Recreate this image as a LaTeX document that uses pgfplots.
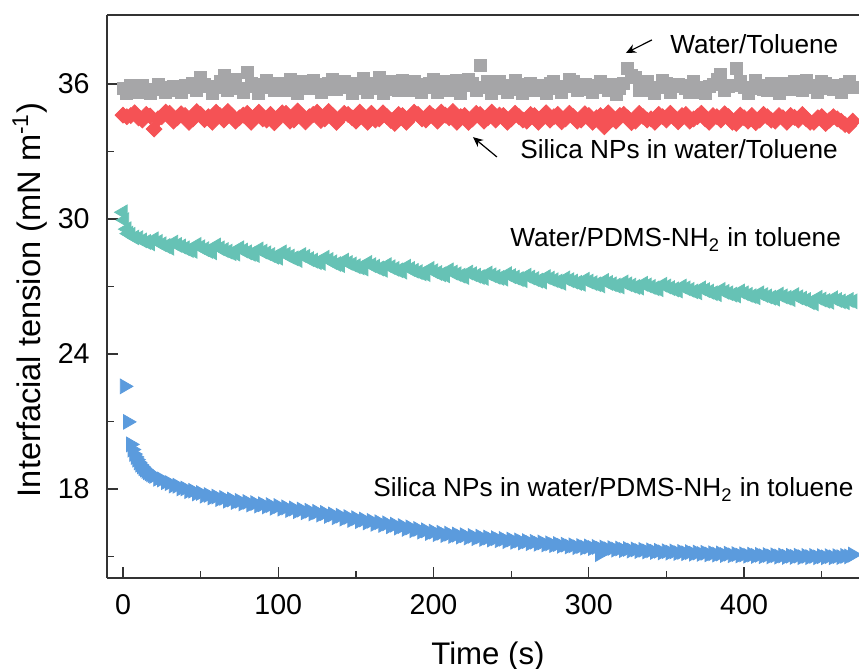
\documentclass[border=0pt]{standalone}
\usepackage{fontspec}
\setmainfont{Liberation Sans}
\usepackage{pgfplots}
\pgfplotsset{compat=1.18}
\usetikzlibrary{arrows.meta}
\definecolor{cgray}{RGB}{166,166,168}
\definecolor{cred}{RGB}{245,82,85}
\definecolor{cteal}{RGB}{102,194,181}
\definecolor{cblue}{RGB}{91,155,221}
\newcommand{\fs}{\fontsize{13.1}{15.5}\selectfont}
\begin{document}
\begin{tikzpicture}
\begin{axis}[
  scale only axis, width=376pt, height=281.5pt,
  xmin=-10.3, xmax=474, ymin=14.04, ymax=39.07,
  axis lines*=left,
  axis line style={black!80, line width=0.6pt},
  every tick/.style={black!80, line width=0.6pt},
  tick align=inside,
  major tick length=5.5pt, minor tick length=3.6pt,
  xtick={0,100,200,300,400}, minor xtick={50,150,250,350,450},
  ytick={18,24,30,36}, minor ytick={15,21,27,33},
  /pgf/number format/assume math mode=true,
  tick label style={font=\fontsize{14.3}{17}\selectfont},
  xticklabel style={anchor=base, yshift=-18.5pt},
  yticklabel style={anchor=east, inner sep=0pt, xshift=-8.5pt},
  every axis x label/.style={at={(axis description cs:0.5066,-0.1545)}, anchor=base, font=\fontsize{15.6}{18}\selectfont},
  every axis y label/.style={at={(axis description cs:-0.1024,0.494)}, anchor=center, rotate=90, font=\fontsize{16.3}{19}\selectfont},
  xlabel={Time (s)},
  ylabel={Interfacial tension (mN m\textsuperscript{-1})},
]
\addplot[only marks, mark=square*, mark size=3pt, mark options={draw=cgray, fill=cgray}] coordinates {
(0,35.80) (2.5,35.60) (5,35.95) (7.5,35.75) (10,35.62) (12.5,35.95) (15,35.70) (17.5,35.58) (20,35.78) (22.5,36.00)
(25,35.85) (27.5,35.65) (30,35.72) (32.5,35.90) (35,35.80) (37.5,35.62) (40,35.95) (42.5,35.85) (45,36.05) (47.5,35.70)
(50,36.30) (52.5,36.00) (55,35.90) (57.5,35.60) (60,35.85) (62.5,36.10) (65,36.40) (67.5,35.70) (70,35.95) (72.5,36.20)
(75,35.80) (77.5,35.65) (80,36.50) (82.5,36.05) (85,35.90) (87.5,35.60) (90,36.00) (92.5,36.15) (95,35.85) (97.5,35.70)
(100,36.05) (102.5,35.90) (105,35.70) (107.5,36.20) (110,35.95) (112.5,35.60) (115,36.10) (117.5,35.80) (120,35.80) (122.5,36.15)
(125,36.00) (127.5,35.62) (130,35.75) (132.5,36.05) (135,36.20) (137.5,35.75) (140,35.90) (142.5,36.10) (145,35.85) (147.5,35.60)
(150,36.05) (152.5,35.80) (155,36.25) (157.5,35.65) (160,35.80) (162.5,36.05) (165,36.30) (167.5,35.60) (170,35.75) (172.5,36.10)
(175,35.95) (177.5,35.70) (180,36.15) (182.5,35.88) (185,35.70) (187.5,36.10) (190,36.00) (192.5,35.62) (195,35.85) (197.5,36.05)
(200,36.20) (202.5,35.65) (205,35.90) (207.5,36.10) (210,35.70) (212.5,35.90) (215,36.15) (217.5,35.60) (220,35.95) (222.5,36.20)
(225,36.05) (227.5,35.70) (230,36.85) (232.5,35.85) (235,36.10) (237.5,35.60) (240,35.80) (242.5,36.10) (245,35.95) (247.5,35.65)
(250,35.75) (252.5,36.15) (255,36.00) (257.5,35.60) (260,35.85) (262.5,36.05) (265,35.70) (267.5,35.75) (270,35.95) (272.5,35.58)
(275,36.05) (277.5,36.10) (280,35.80) (282.5,35.65) (285,35.90) (287.5,36.20) (290,36.10) (292.5,35.70) (295,35.75) (297.5,36.00)
(300,35.95) (302.5,35.62) (305,35.85) (307.5,36.10) (310,35.90) (312.5,35.70) (315,36.00) (317.5,35.55) (320,35.80) (322.5,36.05)
(325,36.70) (327.5,36.40) (330,36.30) (332.5,35.70) (335,35.95) (337.5,36.10) (340,35.70) (342.5,35.60) (345,35.85) (347.5,36.15)
(350,36.05) (352.5,35.65) (355,35.90) (357.5,36.00) (360,35.95) (362.5,35.80) (365,35.65) (367.5,36.10) (370,35.85) (372.5,35.62)
(375,35.60) (377.5,35.90) (380,36.00) (382.5,36.20) (385,36.45) (387.5,35.70) (390,35.90) (392.5,35.95) (395,36.70) (397.5,36.10)
(400,35.85) (402.5,35.60) (405,35.80) (407.5,36.15) (410,35.95) (412.5,35.75) (415,35.70) (417.5,36.05) (420,35.90) (422.5,35.58)
(425,36.05) (427.5,35.85) (430,35.75) (432.5,36.10) (435,35.95) (437.5,35.70) (440,36.15) (442.5,35.95) (445,35.85) (447.5,35.62)
(450,36.10) (452.5,36.05) (455,35.80) (457.5,35.75) (460,35.95) (462.5,35.65) (465,36.00) (467.5,36.10) (470,35.85)
};
\addplot[only marks, mark=square*, mark size=2.8pt, mark options={draw=cred, fill=cred, rotate=45}] coordinates {
(0,34.62) (2.5,34.55) (5,34.60) (7.5,34.72) (10,34.50) (12.5,34.40) (15,34.65) (17.5,34.58) (20,34.00) (22.5,34.45)
(25,34.55) (27.5,34.75) (30,34.70) (32.5,34.35) (35,34.50) (37.5,34.68) (40,34.60) (42.5,34.30) (45,34.45) (47.5,34.78)
(50,34.65) (52.5,34.42) (55,34.55) (57.5,34.30) (60,34.75) (62.5,34.60) (65,34.40) (67.5,34.78) (70,34.60) (72.5,34.35)
(75,34.50) (77.5,34.62) (80,34.70) (82.5,34.30) (85,34.55) (87.5,34.75) (90,34.45) (92.5,34.40) (95,34.65) (97.5,34.28)
(100,34.50) (102.5,34.72) (105,34.70) (107.5,34.35) (110,34.40) (112.5,34.80) (115,34.60) (117.5,34.32) (120,34.55) (122.5,34.65)
(125,34.75) (127.5,34.38) (130,34.45) (132.5,34.78) (135,34.60) (137.5,34.30) (140,34.50) (142.5,34.70) (145,34.65) (147.5,34.50)
(150,34.35) (152.5,34.75) (155,34.55) (157.5,34.30) (160,34.70) (162.5,34.40) (165,34.45) (167.5,34.72) (170,34.55) (172.5,34.38)
(175,34.25) (177.5,34.65) (180,34.60) (182.5,34.30) (185,34.50) (187.5,34.75) (190,34.65) (192.5,34.45) (195,34.40) (197.5,34.70)
(200,34.55) (202.5,34.35) (205,34.75) (207.5,34.62) (210,34.50) (212.5,34.78) (215,34.30) (217.5,34.55) (220,34.60) (222.5,34.30)
(225,34.45) (227.5,34.70) (230,34.65) (232.5,34.35) (235,34.50) (237.5,34.75) (240,34.40) (242.5,34.62) (245,34.60) (247.5,34.30)
(250,34.45) (252.5,34.70) (255,34.55) (257.5,34.40) (260,34.35) (262.5,34.65) (265,34.60) (267.5,34.30) (270,34.50) (272.5,34.72)
(275,34.40) (277.5,34.55) (280,34.65) (282.5,34.32) (285,34.45) (287.5,34.70) (290,34.55) (292.5,34.35) (295,34.40) (297.5,34.68)
(300,34.60) (302.5,34.30) (305,34.50) (307.5,34.60) (310,34.10) (312.5,34.72) (315,34.45) (317.5,34.35) (320,34.60) (322.5,34.65)
(325,34.50) (327.5,34.28) (330,34.35) (332.5,34.70) (335,34.55) (337.5,34.40) (340,34.45) (342.5,34.30) (345,34.65) (347.5,34.55)
(350,34.40) (352.5,34.70) (355,34.50) (357.5,34.32) (360,34.60) (362.5,34.65) (365,34.35) (367.5,34.45) (370,34.55) (372.5,34.70)
(375,34.45) (377.5,34.30) (380,34.60) (382.5,34.55) (385,34.40) (387.5,34.68) (390,34.55) (392.5,34.30) (395,34.25) (397.5,34.62)
(400,34.50) (402.5,34.35) (405,34.60) (407.5,34.28) (410,34.40) (412.5,34.65) (415,34.55) (417.5,34.40) (420,34.35) (422.5,34.60)
(425,34.50) (427.5,34.30) (430,34.60) (432.5,34.52) (435,34.40) (437.5,34.65) (440,34.45) (442.5,34.30) (445,34.30) (447.5,34.50)
(450,34.55) (452.5,34.25) (455,34.40) (457.5,34.55) (460,34.45) (462.5,34.35) (465,34.20) (467.5,34.15) (470,34.35)
};
\addplot[only marks, mark=triangle*, mark size=4.2pt, mark options={draw=cteal, fill=cteal, rotate=90}] coordinates {
(0,30.30) (1,29.95) (2.5,29.55) (3.5,29.35) (5,29.30) (7.5,29.18) (10,29.15) (12.5,29.05) (15,28.98) (17.5,28.92)
(20,29.10) (22.5,28.98) (25,28.88) (27.5,28.80) (30,28.72) (32.5,28.95) (35,28.85) (37.5,28.78) (40,28.70) (42.5,28.62)
(45,28.58) (47.5,28.85) (50,28.75) (52.5,28.66) (55,28.58) (57.5,28.52) (60,28.82) (62.5,28.70) (65,28.62) (67.5,28.55)
(70,28.48) (72.5,28.46) (75,28.70) (77.5,28.60) (80,28.52) (82.5,28.45) (85,28.40) (87.5,28.65) (90,28.55) (92.5,28.48)
(95,28.40) (97.5,28.32) (100,28.28) (102.5,28.52) (105,28.42) (107.5,28.33) (110,28.25) (112.5,28.18) (115,28.40) (117.5,28.32)
(120,28.22) (122.5,28.15) (125,28.08) (127.5,28.05) (130,28.28) (132.5,28.18) (135,28.08) (137.5,28.00) (140,27.95) (142.5,28.15)
(145,28.05) (147.5,27.98) (150,27.90) (152.5,27.85) (155,27.80) (157.5,28.05) (160,27.95) (162.5,27.88) (165,27.80) (167.5,27.74)
(170,27.95) (172.5,27.86) (175,27.78) (177.5,27.72) (180,27.66) (182.5,27.88) (185,27.78) (187.5,27.70) (190,27.64) (192.5,27.58)
(195,27.55) (197.5,27.78) (200,27.68) (202.5,27.60) (205,27.54) (207.5,27.50) (210,27.72) (212.5,27.62) (215,27.55) (217.5,27.48)
(220,27.42) (222.5,27.62) (225,27.55) (227.5,27.48) (230,27.42) (232.5,27.38) (235,27.58) (237.5,27.50) (240,27.43) (242.5,27.38)
(245,27.35) (247.5,27.55) (250,27.46) (252.5,27.40) (255,27.33) (257.5,27.28) (260,27.48) (262.5,27.40) (265,27.33) (267.5,27.26)
(270,27.22) (272.5,27.42) (275,27.35) (277.5,27.28) (280,27.22) (282.5,27.16) (285,27.36) (287.5,27.28) (290,27.22) (292.5,27.16)
(295,27.12) (297.5,27.30) (300,27.22) (302.5,27.15) (305,27.10) (307.5,27.05) (310,27.25) (312.5,27.16) (315,27.10) (317.5,27.04)
(320,27.00) (322.5,27.18) (325,27.10) (327.5,27.04) (330,26.98) (332.5,26.95) (335,27.12) (337.5,27.05) (340,26.98) (342.5,26.92)
(345,26.88) (347.5,27.08) (350,27.00) (352.5,26.93) (355,26.87) (357.5,26.82) (360,27.00) (362.5,26.92) (365,26.85) (367.5,26.78)
(370,26.74) (372.5,26.92) (375,26.84) (377.5,26.77) (380,26.70) (382.5,26.66) (385,26.85) (387.5,26.76) (390,26.70) (392.5,26.64)
(395,26.60) (397.5,26.78) (400,26.70) (402.5,26.63) (405,26.57) (407.5,26.52) (410,26.70) (412.5,26.62) (415,26.56) (417.5,26.50)
(420,26.46) (422.5,26.64) (425,26.56) (427.5,26.50) (430,26.44) (432.5,26.62) (435,26.52) (437.5,26.46) (440,26.40) (442.5,26.30)
(445,26.25) (447.5,26.50) (450,26.42) (452.5,26.36) (455,26.32) (457.5,26.48) (460,26.40) (462.5,26.34) (465,26.30) (467.5,26.40)
(470,26.34)
};
\addplot[only marks, mark=triangle*, mark size=4.2pt, mark options={draw=cblue, fill=cblue, rotate=-90}] coordinates {
(1,22.56) (3,20.98) (5,19.98) (6,19.75) (7,19.55) (8,19.42) (9,19.30) (10,19.18) (11,19.08) (12,19.00)
(13,18.92) (14,18.86) (15,18.80) (16,18.74) (17,18.69) (18,18.65) (19,18.61) (20,18.58) (22.5,18.45) (25,18.42)
(27.5,18.30) (30,18.26) (32.5,18.15) (35,18.14) (37.5,18.02) (40,18.02) (42.5,17.90) (45,17.92) (47.5,17.80) (50,17.82)
(52.5,17.70) (55,17.73) (57.5,17.62) (60,17.66) (62.5,17.55) (65,17.60) (67.5,17.48) (70,17.53) (72.5,17.42) (75,17.47)
(77.5,17.36) (80,17.42) (82.5,17.31) (85,17.37) (87.5,17.26) (90,17.32) (92.5,17.22) (95,17.28) (97.5,17.16) (100,17.24)
(102.5,17.12) (105,17.18) (107.5,17.06) (110,17.13) (112.5,17.01) (115,17.08) (117.5,16.96) (120,17.03) (122.5,16.91) (125,16.98)
(127.5,16.86) (130,16.93) (132.5,16.80) (135,16.87) (137.5,16.74) (140,16.81) (142.5,16.68) (145,16.75) (147.5,16.62) (150,16.70)
(152.5,16.57) (155,16.64) (157.5,16.51) (160,16.58) (162.5,16.45) (165,16.52) (167.5,16.40) (170,16.47) (172.5,16.34) (175,16.41)
(177.5,16.28) (180,16.35) (182.5,16.22) (185,16.29) (187.5,16.16) (190,16.22) (192.5,16.10) (195,16.16) (197.5,16.04) (200,16.10)
(202.5,15.99) (205,16.05) (207.5,15.95) (210,16.01) (212.5,15.91) (215,15.97) (217.5,15.88) (220,15.94) (222.5,15.84) (225,15.91)
(227.5,15.81) (230,15.88) (232.5,15.78) (235,15.84) (237.5,15.75) (240,15.81) (242.5,15.72) (245,15.78) (247.5,15.68) (250,15.75)
(252.5,15.65) (255,15.71) (257.5,15.62) (260,15.68) (262.5,15.59) (265,15.65) (267.5,15.56) (270,15.62) (272.5,15.53) (275,15.58)
(277.5,15.50) (280,15.55) (282.5,15.47) (285,15.52) (287.5,15.44) (290,15.49) (292.5,15.41) (295,15.46) (297.5,15.39) (300,15.44)
(302.5,15.37) (305,15.42) (307,15.10) (307.5,15.34) (310,15.39) (312.5,15.32) (315,15.37) (317.5,15.30) (320,15.35) (322.5,15.28)
(325,15.33) (327.5,15.26) (330,15.31) (332.5,15.24) (335,15.29) (337.5,15.22) (340,15.27) (342.5,15.20) (345,15.25) (347.5,15.18)
(350,15.23) (352.5,15.17) (355,15.22) (357.5,15.15) (360,15.20) (362.5,15.14) (365,15.19) (367.5,15.12) (370,15.17) (372.5,15.11)
(375,15.16) (377.5,15.09) (380,15.14) (382.5,15.08) (385,15.13) (387.5,15.06) (390,15.12) (392.5,15.05) (395,15.10) (397.5,15.04)
(400,15.09) (402.5,15.03) (405,15.08) (407.5,15.02) (410,15.07) (412.5,15.01) (415,15.06) (417.5,15.00) (420,15.05) (422.5,14.99)
(425,15.04) (427.5,14.98) (430,15.03) (432.5,14.98) (435,15.03) (437.5,14.97) (440,15.02) (442.5,14.97) (445,15.02) (447.5,14.96)
(450,15.01) (452.5,14.96) (455,15.01) (457.5,14.96) (460,15.01) (462.5,14.97) (465,15.02) (467.5,15.00) (470,15.08)
};
\draw[black!80, line width=0.6pt] (rel axis cs:0,1) -- (rel axis cs:1,1);
\node[anchor=base west, inner sep=0pt, font=\fs] at (axis cs:352.2,37.38) {Water/Toluene};
\draw[-{Stealth[length=5pt,width=4.5pt]}, line width=0.6pt] (axis cs:340.6,37.96) -- (axis cs:323.9,37.38);
\node[anchor=base west, inner sep=0pt, font=\fs] at (axis cs:255.6,32.71) {Silica NPs in water/Toluene};
\draw[-{Stealth[length=5pt,width=4.5pt]}, line width=0.6pt] (axis cs:240.8,32.76) -- (axis cs:225.4,33.64);
\node[anchor=base west, inner sep=0pt, font=\fs] at (axis cs:249.2,28.76) {Water/PDMS-NH\textsubscript{2} in toluene};
\node[anchor=base west, inner sep=0pt, font=\fs] at (axis cs:161.0,17.66) {Silica NPs in water/PDMS-NH\textsubscript{2} in toluene};
\end{axis}
\pgfresetboundingbox
\path (-53.5pt,-45.5pt) rectangle (376pt,289pt);
\end{tikzpicture}
\end{document}
